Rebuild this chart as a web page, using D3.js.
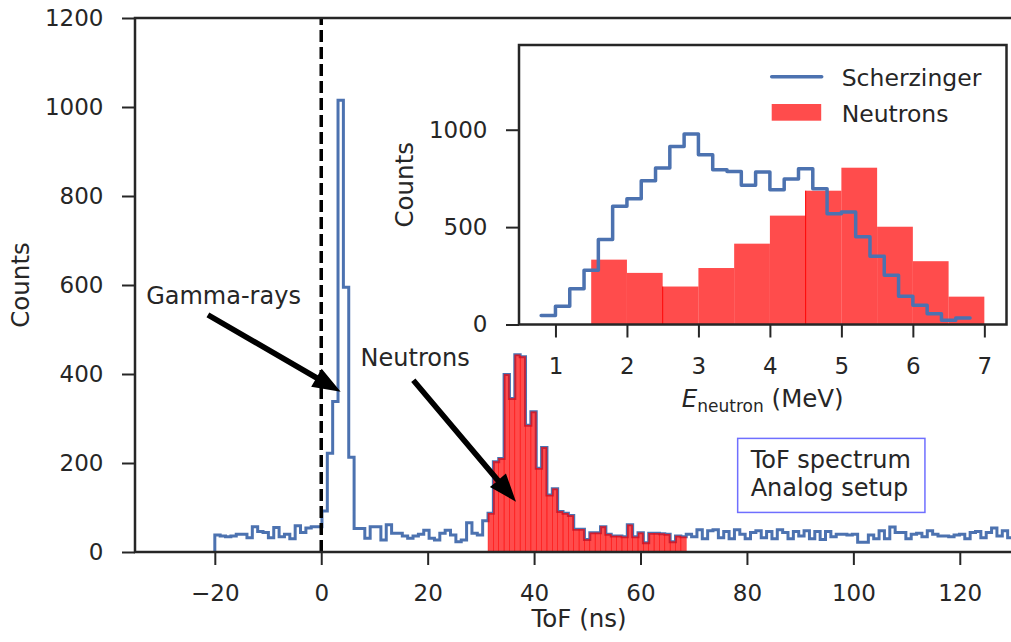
<!DOCTYPE html>
<html>
<head>
<meta charset="utf-8">
<script src="https://cdn.jsdelivr.net/npm/d3@7"></script>
<style>
  body { margin: 0; background: #fff; }
  svg { display: block; }
</style>
</head>
<body>
<svg id="chart" width="1011" height="642"></svg>
<script>
// ===== Data =====
// ToF histogram: 149 equal bins between -20 and 130 ns
const tofStart = -20, tofEnd = 130, tofBinCount = 149;
const tofCounts = [
  38, 36, 34, 36, 40, 40, 32, 57, 46, 44, 32, 55, 34, 40, 30, 59, 44, 54, 57, 57,
  92, 222, 338, 1015, 595, 213,
  53, 53, 31, 57, 57, 27, 61, 42, 42, 36, 31, 36, 40, 49, 31, 27, 42, 49, 38, 23, 27, 66, 42, 38, 70,
  87, 203, 210, 399, 345, 443, 439, 285, 315, 188, 235, 128, 142, 91, 87, 82, 51, 51, 28, 43,
  43, 57, 40, 36, 36, 34, 61, 34, 43, 21, 42, 42, 41, 40, 23, 36, 34,
  40, 34, 50, 30, 48, 50, 32, 46, 30, 50, 40, 30, 44, 48, 32, 46, 30, 50, 44, 30,
  46, 36, 48, 30, 46, 28, 46, 34, 40, 40, 38, 40, 22, 22, 38, 30, 48, 30, 56, 44,
  44, 30, 40, 42, 34, 48, 40, 36, 36, 34, 38, 40, 30, 44, 46, 32, 44, 54, 36, 48, 32
];
// bins [first, last) that are marked as neutrons
const neutronBins = [51, 88];

const xTicksMain = [-20, 0, 20, 40, 60, 80, 100, 120];
const yTicksMain = [0, 200, 400, 600, 800, 1000, 1200];

// Inset: energy spectra
const scherzingerStart = 0.8, scherzingerWidth = 0.2;
const scherzingerCounts = [
  46, 94, 183, 279, 436, 607, 645, 738, 803, 914, 978, 872, 795, 785, 715,
  783, 692, 747, 800, 697, 569, 578, 450, 350, 253, 145, 99, 55, 22, 34
];
const neutronEdgesE = [1.5, 2.0, 2.5, 3.0, 3.5, 4.0, 4.5, 5.0, 5.5, 6.0, 6.5, 7.0];
const neutronCountsE = [333, 265, 195, 290, 415, 559, 687, 805, 502, 325, 143];
const neutronEdgeLines = [2, 6]; // bars whose left edge shows a thin line

const xTicksInset = [1, 2, 3, 4, 5, 6, 7];
const yTicksInset = [0, 500, 1000];

// ===== Layout =====
const FONT = "'DejaVu Sans', sans-serif";
const INK = "#262626";
const BLUE = "#4c72b0";
const fmt = d3.format("d");
const main = { left: 135, top: 18, right: 1013, bottom: 552 };
const ins = { left: 519, top: 45, right: 1006.5, bottom: 324.5 };

const svg = d3.select("#chart");

const x = d3.scaleLinear().domain([-35, 130]).range([main.left, main.right]);
const y = d3.scaleLinear().domain([0, 1200]).range([main.bottom, main.top]);

const binW = (tofEnd - tofStart) / tofBinCount;
const edges = d3.range(tofBinCount + 1).map(i => tofStart + i * binW);

svg.append("defs").append("clipPath").attr("id", "clipMain")
  .append("rect")
  .attr("x", main.left).attr("y", main.top)
  .attr("width", main.right - main.left).attr("height", main.bottom - main.top);

const plot = svg.append("g").attr("clip-path", "url(#clipMain)");

// Blue step histogram
const stepPts = [[edges[0], 0]];
tofCounts.forEach((c, i) => { stepPts.push([edges[i], c], [edges[i + 1], c]); });
stepPts.push([edges[tofBinCount], 0]);

plot.append("path")
  .attr("d", d3.line().x(d => x(d[0])).y(d => y(d[1]))(stepPts))
  .attr("fill", "none")
  .attr("stroke", BLUE)
  .attr("stroke-width", 3)
  .attr("stroke-linejoin", "miter");

// Neutron bars (red)
const nIdx = d3.range(neutronBins[0], neutronBins[1]);
plot.selectAll(".nbar")
  .data(nIdx)
  .enter()
  .append("rect")
  .attr("class", "nbar")
  .attr("x", i => x(edges[i]))
  .attr("width", i => x(edges[i + 1]) - x(edges[i]))
  .attr("y", i => y(tofCounts[i]))
  .attr("height", i => y(0) - y(tofCounts[i]))
  .attr("fill", "red")
  .attr("fill-opacity", 0.7)
  .attr("stroke", "red")
  .attr("stroke-opacity", 0.8)
  .attr("stroke-width", 0.5);

// Dashed line at t = 0
plot.append("line")
  .attr("x1", x(0)).attr("x2", x(0))
  .attr("y1", main.bottom).attr("y2", main.top)
  .attr("stroke", "black")
  .attr("stroke-width", 3.5)
  .attr("stroke-dasharray", "12,5");

// Main frame
svg.append("rect")
  .attr("x", main.left).attr("y", main.top)
  .attr("width", main.right - main.left).attr("height", main.bottom - main.top)
  .attr("fill", "none").attr("stroke", INK).attr("stroke-width", 2.5);

function styleAxis(g, size) {
  g.select(".domain").remove();
  g.selectAll(".tick line").attr("stroke", INK).attr("stroke-width", 2);
  g.selectAll(".tick text")
    .attr("fill", INK)
    .attr("font-family", FONT)
    .attr("font-size", size);
}

svg.append("g")
  .attr("transform", `translate(0,${main.bottom})`)
  .call(d3.axisBottom(x).tickValues(xTicksMain).tickFormat(fmt)
    .tickSize(13).tickSizeOuter(0).tickPadding(20))
  .call(g => styleAxis(g, 23));

svg.append("g")
  .attr("transform", `translate(${main.left},0)`)
  .call(d3.axisLeft(y).tickValues(yTicksMain).tickFormat(fmt)
    .tickSize(13).tickSizeOuter(0).tickPadding(18.5))
  .call(g => styleAxis(g, 23));

// Axis labels
svg.append("text")
  .attr("x", (main.left + main.right) / 2 + 5).attr("y", 627)
  .attr("text-anchor", "middle")
  .attr("font-family", FONT).attr("font-size", 24.5).attr("fill", INK)
  .text("ToF (ns)");

svg.append("text")
  .attr("transform", `translate(28.5,${(main.top + main.bottom) / 2}) rotate(-90)`)
  .attr("text-anchor", "middle")
  .attr("font-family", FONT).attr("font-size", 24.5).attr("fill", INK)
  .text("Counts");

// ===== Annotations =====
function arrow(tail, tip) {
  const x1 = x(tail[0]), y1 = y(tail[1]), x2 = x(tip[0]), y2 = y(tip[1]);
  const len = Math.hypot(x2 - x1, y2 - y1);
  const ux = (x2 - x1) / len, uy = (y2 - y1) / len;
  const nx = -uy, ny = ux;
  const sw = 2.8, hw = 10.5, hl = 28;
  const bx = x2 - ux * hl, by = y2 - uy * hl;
  const pts = [
    [x1 + nx * sw, y1 + ny * sw],
    [bx + nx * sw, by + ny * sw],
    [bx + nx * hw, by + ny * hw],
    [x2, y2],
    [bx - nx * hw, by - ny * hw],
    [bx - nx * sw, by - ny * sw],
    [x1 - nx * sw, y1 - ny * sw]
  ];
  svg.append("polygon")
    .attr("points", pts.map(p => p.join(",")).join(" "))
    .attr("fill", "black");
}

svg.append("text")
  .attr("x", x(-32.9)).attr("y", y(557))
  .attr("font-family", FONT).attr("font-size", 24).attr("fill", INK)
  .text("Gamma-rays");
arrow([-21.3, 533], [3.65, 360]);

svg.append("text")
  .attr("x", x(7.4)).attr("y", y(418))
  .attr("font-family", FONT).attr("font-size", 24).attr("fill", INK)
  .text("Neutrons");
arrow([17.3, 386], [36.6, 113]);

// Text box
const boxG = svg.append("g");
const boxText = boxG.append("text")
  .attr("font-family", FONT).attr("font-size", 24).attr("fill", INK);
boxText.append("tspan").attr("x", x(80.7)).attr("y", y(189)).text("ToF spectrum");
boxText.append("tspan").attr("x", x(80.7)).attr("y", y(126)).text("Analog setup");
const bb = boxText.node().getBBox();
boxG.insert("rect", "text")
  .attr("x", bb.x - 12).attr("y", bb.y - 7.5)
  .attr("width", bb.width + 26).attr("height", bb.height + 18)
  .attr("fill", "white")
  .attr("stroke", "#6f6fff")
  .attr("stroke-width", 1.5);

// ===== Inset =====
const xi = d3.scaleLinear().domain([0.49, 7.31]).range([ins.left, ins.right]);
const yi = d3.scaleLinear().domain([0, 1435]).range([ins.bottom, ins.top]);

svg.append("rect")
  .attr("x", ins.left).attr("y", ins.top)
  .attr("width", ins.right - ins.left).attr("height", ins.bottom - ins.top)
  .attr("fill", "white");

const inset = svg.append("g");

inset.selectAll(".ebar")
  .data(neutronCountsE)
  .enter()
  .append("rect")
  .attr("class", "ebar")
  .attr("x", (d, i) => xi(neutronEdgesE[i]))
  .attr("width", (d, i) => xi(neutronEdgesE[i + 1]) - xi(neutronEdgesE[i]))
  .attr("y", d => yi(d))
  .attr("height", d => yi(0) - yi(d))
  .attr("fill", "red")
  .attr("fill-opacity", 0.7);

inset.selectAll(".eedge")
  .data(neutronEdgeLines)
  .enter()
  .append("line")
  .attr("x1", i => xi(neutronEdgesE[i])).attr("x2", i => xi(neutronEdgesE[i]))
  .attr("y1", yi(0)).attr("y2", i => yi(neutronCountsE[i]))
  .attr("stroke", "red").attr("stroke-width", 1);

const sPts = [];
scherzingerCounts.forEach((c, i) => {
  const e0 = scherzingerStart + i * scherzingerWidth;
  sPts.push([e0, c], [e0 + scherzingerWidth, c]);
});
inset.append("path")
  .attr("d", d3.line().x(d => xi(d[0])).y(d => yi(d[1]))(sPts))
  .attr("fill", "none")
  .attr("stroke", BLUE)
  .attr("stroke-width", 3.5)
  .attr("stroke-linecap", "round")
  .attr("stroke-linejoin", "round");

svg.append("rect")
  .attr("x", ins.left).attr("y", ins.top)
  .attr("width", ins.right - ins.left).attr("height", ins.bottom - ins.top)
  .attr("fill", "none").attr("stroke", INK).attr("stroke-width", 2.5);

svg.append("g")
  .attr("transform", `translate(0,${ins.bottom})`)
  .call(d3.axisBottom(xi).tickValues(xTicksInset).tickFormat(fmt)
    .tickSize(13).tickSizeOuter(0).tickPadding(20))
  .call(g => styleAxis(g, 23));

svg.append("g")
  .attr("transform", `translate(${ins.left},0)`)
  .call(d3.axisLeft(yi).tickValues(yTicksInset).tickFormat(fmt)
    .tickSize(13).tickSizeOuter(0).tickPadding(18.5))
  .call(g => styleAxis(g, 23));

const xl = svg.append("text")
  .attr("x", (ins.left + ins.right) / 2).attr("y", 407)
  .attr("text-anchor", "middle")
  .attr("font-family", FONT).attr("font-size", 24.5).attr("fill", INK);
xl.append("tspan").attr("font-style", "italic").text("E");
xl.append("tspan").attr("font-size", 17).attr("dy", 5).text("neutron");
xl.append("tspan").attr("dy", -5).text(" (MeV)");

svg.append("text")
  .attr("transform", `translate(${ins.left - 106.5},${(ins.top + ins.bottom) / 2}) rotate(-90)`)
  .attr("text-anchor", "middle")
  .attr("font-family", FONT).attr("font-size", 24.5).attr("fill", INK)
  .text("Counts");

// Legend
const leg = svg.append("g").attr("transform", `translate(${ins.left},${ins.top})`);
leg.append("line")
  .attr("x1", 252.7).attr("x2", 302.7).attr("y1", 31.7).attr("y2", 31.7)
  .attr("stroke", BLUE).attr("stroke-width", 3.5).attr("stroke-linecap", "round");
leg.append("rect")
  .attr("x", 252.7).attr("y", 59).attr("width", 49.5).attr("height", 16.7)
  .attr("fill", "red").attr("fill-opacity", 0.7);
leg.append("text")
  .attr("x", 322.7).attr("y", 41)
  .attr("font-family", FONT).attr("font-size", 23.5).attr("fill", INK)
  .text("Scherzinger");
leg.append("text")
  .attr("x", 322.7).attr("y", 76.7)
  .attr("font-family", FONT).attr("font-size", 23.5).attr("fill", INK)
  .text("Neutrons");
</script>
</body>
</html>
